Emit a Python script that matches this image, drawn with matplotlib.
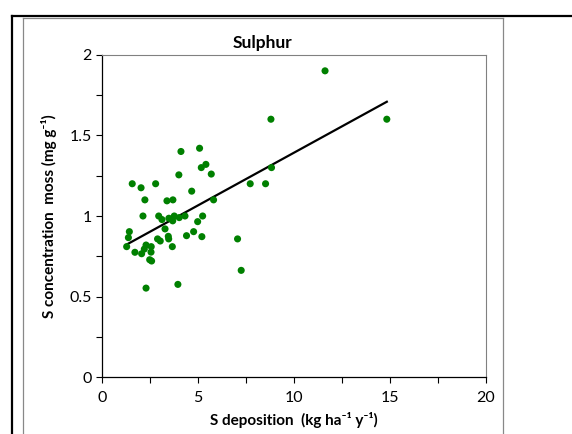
import numpy as np
import matplotlib
matplotlib.use("Agg")
import matplotlib.pyplot as plt
from matplotlib.lines import Line2D

# S deposition (kg ha-1 y-1) vs S concentration in moss (mg g-1)
s_deposition = [4.10, 5.07, 5.40, 5.16, 5.68, 3.99, 8.82, 1.56, 2.78, 2.02,
                7.71, 8.51, 4.66, 2.22, 3.37, 3.68, 5.80, 2.12, 2.94, 3.11,
                3.47, 3.75, 3.67, 4.01, 4.31, 5.23, 4.97, 3.27, 4.76, 1.41,
                1.36, 4.39, 5.19, 3.44, 3.46, 2.88, 3.02, 7.05, 1.27, 3.65,
                2.28, 2.55, 2.19, 1.70, 2.05, 2.54, 2.47, 2.57, 7.24, 3.94,
                2.28, 11.61, 14.83, 8.79]
s_moss = [1.40, 1.42, 1.32, 1.30, 1.26, 1.255, 1.30, 1.20, 1.20, 1.175,
          1.20, 1.20, 1.154, 1.10, 1.094, 1.10, 1.10, 1.00, 1.00, 0.978,
          0.986, 1.00, 0.97, 0.99, 1.00, 1.00, 0.965, 0.92, 0.903, 0.903,
          0.866, 0.878, 0.872, 0.874, 0.858, 0.858, 0.845, 0.858, 0.81, 0.81,
          0.82, 0.81, 0.795, 0.775, 0.766, 0.776, 0.729, 0.721, 0.663, 0.576,
          0.553, 1.90, 1.60, 1.60]

x = np.array(s_deposition)
y = np.array(s_moss)

plt.rcParams['font.family'] = ['Lato', 'DejaVu Sans']

fig = plt.figure(figsize=(5.72, 4.34), dpi=100)
ax = fig.add_axes([102.3 / 572, 1 - 377.3 / 434, (486 - 102.3) / 572, (377.3 - 54.7) / 434])

ax.scatter(x, y, s=26, color="#008000", edgecolors="none", zorder=3)

# linear trend line over the data range
k, b = np.polyfit(x, y, 1)
xs = np.array([x.min(), x.max()])
ax.plot(xs, k * xs + b, color="black", lw=1.6, zorder=2)

ax.set_xlim(0, 20)
ax.set_ylim(0, 2)
ax.set_xticks([0, 5, 10, 15, 20])
ax.set_xticks([2.5, 7.5, 12.5, 17.5], minor=True)
ax.set_yticks([0, 0.5, 1, 1.5, 2])
ax.set_yticklabels(["0", "0.5", "1", "1.5", "2"])
ax.set_yticks([0.25, 0.75, 1.25, 1.75], minor=True)
ax.tick_params(which="both", direction="out", length=4, width=0.8, labelsize=11.5)
ax.tick_params(axis="x", pad=6)

for side in ["top", "right"]:
    ax.spines[side].set_color("#808080")
    ax.spines[side].set_linewidth(0.8)
for side in ["left", "bottom"]:
    ax.spines[side].set_color("black")
    ax.spines[side].set_linewidth(0.9)

ax.set_xlabel("S deposition  (kg ha\u207b\u00b9 y\u207b\u00b9)", fontweight="bold", fontsize=11, labelpad=5)
ax.set_ylabel("S concentration  moss (mg g\u207b\u00b9)", fontweight="bold", fontsize=11, labelpad=9)

fig.text(263 / 572, 1 - 43 / 434, "Sulphur", ha="center", va="center",
         fontweight="bold", fontsize=12.5)

# chart frame lines
fig.add_artist(Line2D([12 / 572, 1], [1 - 16.4 / 434] * 2, color="black", lw=1.6))
fig.add_artist(Line2D([12 / 572] * 2, [0, 1 - 16.4 / 434], color="black", lw=1.6))
fig.add_artist(Line2D([23 / 572] * 2, [0, 1 - 17.8 / 434], color="#888888", lw=0.9))
fig.add_artist(Line2D([503 / 572] * 2, [0, 1 - 17.8 / 434], color="#888888", lw=0.9))
fig.add_artist(Line2D([23 / 572, 503 / 572], [1 - 17.8 / 434] * 2, color="#888888", lw=0.9))

fig.savefig("out.png", dpi=100)
